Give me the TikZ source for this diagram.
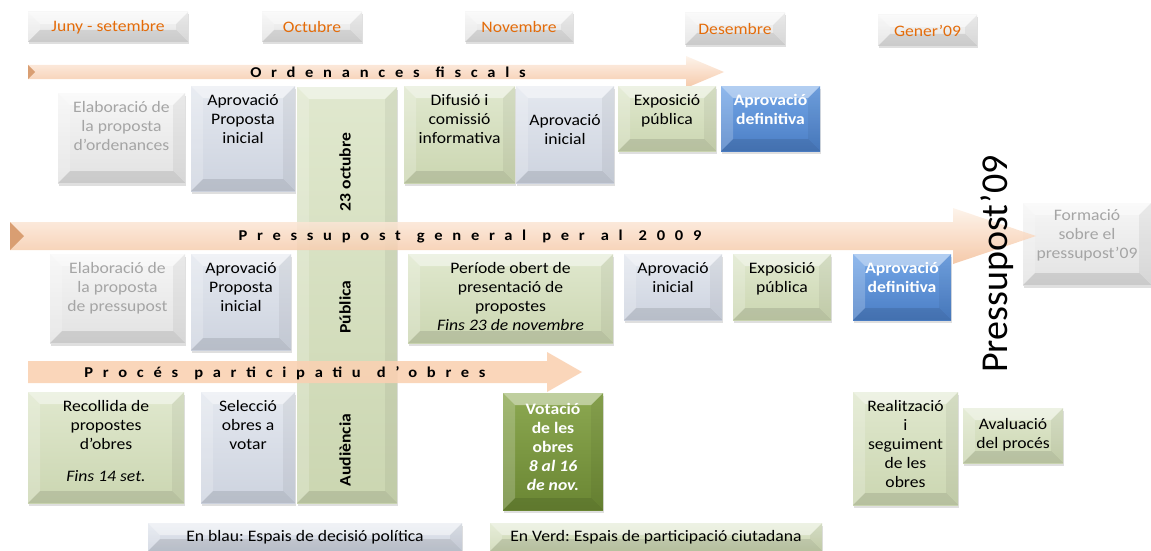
\documentclass[tikz,border=0pt]{standalone}
\usepackage{fontspec}
\setmainfont{Carlito}[FakeStretch=1.1]
\newfontfamily\bigfont{Carlito}
\usetikzlibrary{shadows}
\frenchspacing

\newcommand{\basefont}{\fontsize{16}{19}\selectfont}
\newcommand{\wgap}{\hspace{16pt}}
\def\bv{12pt}

% colours
\definecolor{orangetxt}{HTML}{E46C0A}
\definecolor{greytxt}{HTML}{A5A5A5}
\definecolor{grisA}{HTML}{F6F6F6}
\definecolor{grisB}{HTML}{E2E2E2}
\definecolor{blgA}{HTML}{E4E8EF}
\definecolor{blgB}{HTML}{CDD3DF}
\definecolor{vA}{HTML}{E0E8CE}
\definecolor{vB}{HTML}{CBD6B1}
\definecolor{bluA}{HTML}{74A7E8}
\definecolor{bluB}{HTML}{4A7DC4}
\definecolor{dvA}{HTML}{8CA851}
\definecolor{dvB}{HTML}{6A8633}
\definecolor{pchA}{HTML}{FDF2E8}
\definecolor{pchB}{HTML}{F4C29E}
\definecolor{pchC}{HTML}{D99E72}
\definecolor{procfill}{HTML}{F9D1B3}

\tikzset{
  bevel/.style={path picture={
    \coordinate (bnw) at (path picture bounding box.north west);
    \coordinate (bne) at (path picture bounding box.north east);
    \coordinate (bsw) at (path picture bounding box.south west);
    \coordinate (bse) at (path picture bounding box.south east);
    \fill[white,opacity=.45] (bnw) -- (bne) -- ([shift={(-\bv,-\bv)}]bne) -- ([shift={(\bv,-\bv)}]bnw) -- cycle;
    \fill[white,opacity=.2] (bnw) -- ([shift={(\bv,-\bv)}]bnw) -- ([shift={(\bv,\bv)}]bsw) -- (bsw) -- cycle;
    \fill[black,opacity=.05] (bne) -- ([shift={(-\bv,-\bv)}]bne) -- ([shift={(-\bv,\bv)}]bse) -- (bse) -- cycle;
    \fill[black,opacity=.1] (bsw) -- ([shift={(\bv,\bv)}]bsw) -- ([shift={(-\bv,\bv)}]bse) -- (bse) -- cycle;
  }},
  card/.style={inner sep=0pt, bevel, drop shadow={opacity=.25, shadow xshift=1pt, shadow yshift=-2.5pt}},
  grisbox/.style={card, top color=grisA, bottom color=grisB},
  blaubox/.style={card, top color=blgA, bottom color=blgB},
  verdbox/.style={card, top color=vA, bottom color=vB},
  decbox/.style={card, top color=bluA, bottom color=bluB},
  votbox/.style={card, top color=dvA, bottom color=dvB},
  mes/.style={card, top color=grisA, bottom color=grisB, text=orangetxt},
  txt/.style={anchor=north, align=center, inner sep=0pt, yshift=-8pt},
  gtxt/.style={txt, text=greytxt},
  wtxt/.style={txt, text=white, font=\basefont\bfseries},
  fletxa/.style={top color=pchA, bottom color=pchB, opacity=.88},
  titol/.style={font=\fontsize{15}{18}\selectfont\bfseries\addfontfeature{LetterSpace=65}},
  vert/.style={rotate=90, font=\basefont\bfseries},
}

\begin{document}
\begin{tikzpicture}[x=1pt, y=-1pt, every node/.style={font=\basefont}]
\useasboundingbox (0,0) rectangle (1151,551);

% months
\node[mes, minimum width=160, minimum height=30] (mjun) at (108,27) {Juny - setembre};
\node[mes, minimum width=100, minimum height=30] (moct) at (312,27) {Octubre};
\node[mes, minimum width=108, minimum height=30] (mnov) at (519,27) {Novembre};
\node[mes, minimum width=100, minimum height=32] (mdes) at (735,29) {Desembre};
\node[mes, minimum width=99, minimum height=31] (mgen) at (927.5,30.5) {Gener’09};

% public hearing bar
\node[verdbox, minimum width=100, minimum height=416] (barra) at (347,295) {};

% training box, under the arrow head
\node[grisbox, minimum width=128, minimum height=82,
  label={[gtxt, yshift=2pt]north:{Formació\\sobre el\\pressupost’09}}] (form) at (1087,244) {};

% arrows
\shade[fletxa] (28,65) -- (686,65) -- (686,56) -- (724,72) -- (686,88) -- (686,79) -- (28,79) -- cycle;
\fill[pchC] (28,65) -- (35,72) -- (28,79) -- cycle;
\shade[fletxa] (10,222) -- (953,222) -- (953,208) -- (1036,236) -- (953,264) -- (953,250) -- (10,250) -- cycle;
\fill[pchC] (10,222) -- (24,236) -- (10,250) -- cycle;
\fill[procfill, opacity=.9] (28,361) -- (547,361) -- (547,352) -- (582,372) -- (547,392) -- (547,383) -- (28,383) -- cycle;

\node[titol] (tord) at (388,72) {Ordenances\wgap fiscals};
\node[titol] (tpre) at (470,237) {Pressupost\wgap general\wgap per\wgap al\wgap 2009};
\node[titol] (tpro) at (285,373) {Procés\wgap participatiu\wgap d’obres};

% row 1: ordenances
\node[grisbox, minimum width=127, minimum height=90,
  label={[gtxt]north:{Elaboració de\\la proposta\\d’ordenances}}] (elo) at (121.5,138) {};
\node[blaubox, minimum width=104, minimum height=105,
  label={[txt]north:{Aprovació\\Proposta\\inicial}}] (apo1) at (243,138.5) {};
\node[verdbox, minimum width=111, minimum height=97,
  label={[txt]north:{Difusió i\\comissió\\informativa}}] (dif) at (459.5,134.5) {};
\node[blaubox, minimum width=98, minimum height=97,
  label={[txt, yshift=-20pt]north:{Aprovació\\inicial}}] (api1) at (565,134.5) {};
\node[verdbox, minimum width=98, minimum height=65,
  label={[txt]north:{Exposició\\pública}}] (exp1) at (667,118.5) {};
\node[decbox, minimum width=99, minimum height=65,
  label={[wtxt]north:{Aprovació\\definitiva}}] (apd1) at (770.5,118.5) {};

% row 2: pressupost
\node[grisbox, minimum width=135, minimum height=89,
  label={[gtxt]north:{Elaboració de\\la proposta\\de pressupost}}] (elp) at (117.5,298.5) {};
\node[blaubox, minimum width=100, minimum height=96,
  label={[txt]north:{Aprovació\\Proposta\\inicial}}] (apo2) at (241,302) {};
\node[verdbox, minimum width=205, minimum height=89,
  label={[txt]north:{Període obert de\\presentació de\\propostes\\\textit{Fins 23 de novembre}}}] (per) at (510.5,298.5) {};
\node[blaubox, minimum width=98, minimum height=66,
  label={[txt]north:{Aprovació\\inicial}}] (api2) at (673,287) {};
\node[verdbox, minimum width=98, minimum height=66,
  label={[txt]north:{Exposició\\pública}}] (exp2) at (782,287) {};
\node[decbox, minimum width=98, minimum height=66,
  label={[wtxt]north:{Aprovació\\definitiva}}] (apd2) at (902,287) {};

% row 3: obres
\node[verdbox, minimum width=156, minimum height=111,
  label={[txt]north:{Recollida de\\propostes\\d’obres\\[13pt]\textit{Fins 14 set.}}}] (rec) at (106,447.5) {};
\node[blaubox, minimum width=94, minimum height=111,
  label={[txt]north:{Selecció\\obres a\\votar}}] (sel) at (248,447.5) {};
\node[votbox, minimum width=100, minimum height=117,
  label={[wtxt, yshift=-2pt]north:{Votació\\de les\\obres\\\textit{8 al 16}\\\textit{de nov.}}}] (vot) at (553,451.5) {};
\node[verdbox, minimum width=105, minimum height=113,
  label={[txt]north:{Realització\\i\\seguiment\\de les\\obres}}] (rea) at (905.5,448.5) {};
\node[verdbox, minimum width=100, minimum height=55,
  label={[txt, yshift=-2pt]north:{Avaluació\\del procés}}] (ava) at (1013,435.5) {};

% bar texts
\node[vert] (t23) at (345,172) {23 octubre};
\node[vert] (tpub) at (345,307) {Pública};
\node[vert] (taud) at (345,450) {Audiència};

% legend
\node[blaubox, minimum width=314, minimum height=28] (llb) at (305,537) {En blau: Espais de decisió política};
\node[verdbox, minimum width=332, minimum height=28] (llv) at (656,537) {En Verd: Espais de participació ciutadana};

% big title
\node[rotate=90, font=\bigfont\fontsize{38}{40}\selectfont] (p09) at (997,264) {Pressupost’09};

\end{tikzpicture}
\end{document}
